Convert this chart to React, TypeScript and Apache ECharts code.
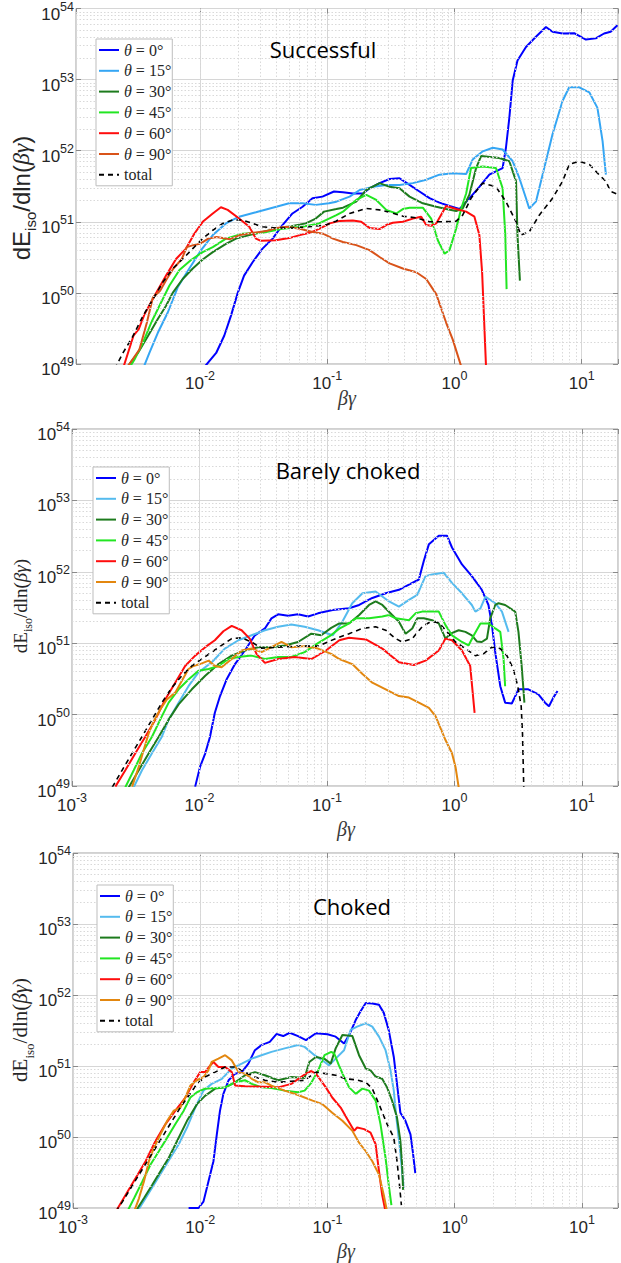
import React, { useEffect, useRef } from "react";
import * as echarts from "echarts";

type Pt = [number, number];

const seriesLabels = ["θ = 0°", "θ = 15°", "θ = 30°", "θ = 45°", "θ = 60°", "θ = 90°", "total"];
const panelTitles = ["Successful", "Barely choked", "Choked"];

// ---------- Successful ----------
const succ0: Pt[] = [[0.0105,8.5e48],[0.0134,1.43e49],[0.0155,2.5e49],[0.0175,4.75e49],[0.0198,1.0e50],[0.0222,1.75e50],[0.0259,2.7e50],[0.031,4.2e50],[0.0372,5.8e50],[0.0445,9.0e50],[0.0533,1.31e51],[0.064,1.63e51],[0.0766,2.14e51],[0.0917,2.26e51],[0.113,2.67e51],[0.133,2.6e51],[0.159,2.5e51],[0.191,2.5e51],[0.215,2.96e51],[0.258,3.5e51],[0.309,4.0e51],[0.37,4.1e51],[0.444,3.3e51],[0.531,2.67e51],[0.637,2.15e51],[0.762,1.86e51],[0.914,1.67e51],[1.094,1.51e51],[1.31,2.14e51],[1.57,3.1e51],[1.88,4.6e51],[2.39,5.7e51],[2.54,1.1e52],[2.7,2.9e52],[2.87,9.7e52],[3.13,1.86e53],[3.65,2.87e53],[4.37,4.0e53],[5.24,5.5e53],[5.9,4.7e53],[7.07,4.45e53],[8.73,4.5e53],[10.8,3.66e53],[12.9,3.8e53],[15.0,4.45e53],[16.9,4.7e53],[19.1,5.8e53]];
const succ15: Pt[] = [[0.00356,8.5e48],[0.004,1.43e49],[0.00466,2.75e49],[0.00558,5.3e49],[0.00668,1.2e50],[0.00824,2.2e50],[0.0102,4.0e50],[0.0126,6.5e50],[0.016,9.5e50],[0.0203,1.18e51],[0.0275,1.36e51],[0.0372,1.58e51],[0.0502,1.82e51],[0.064,1.82e51],[0.0813,1.73e51],[0.103,1.82e51],[0.118,1.92e51],[0.15,2.26e51],[0.18,2.8e51],[0.229,3.1e51],[0.291,3.3e51],[0.37,3.3e51],[0.471,3.5e51],[0.6,3.9e51],[0.762,4.6e51],[0.97,4.8e51],[1.236,4.7e51],[1.39,7.5e51],[1.67,9.8e51],[2.0,1.1e52],[2.39,1.04e52],[2.87,7.1e51],[3.24,4.1e51],[3.65,2.14e51],[3.87,1.54e51],[4.37,1.92e51],[4.93,4.6e51],[5.9,1.7e52],[7.07,5.0e52],[7.98,7.8e52],[9.56,7.8e52],[11.5,6.6e52],[13.3,4.0e52],[14.6,1.36e52],[15.5,4.6e51]];
const succ30: Pt[] = [[0.00271,9.3e48],[0.00325,1.43e49],[0.00389,2.46e49],[0.00466,4.3e49],[0.00541,6.6e49],[0.0061,1.0e50],[0.00731,1.57e50],[0.00877,2.2e50],[0.0105,2.95e50],[0.0126,3.75e50],[0.016,4.9e50],[0.0192,5.8e50],[0.0244,6.5e50],[0.031,7.2e50],[0.0394,8.0e50],[0.0533,8.7e50],[0.0678,9.5e50],[0.0813,1.11e51],[0.0944,1.39e51],[0.118,1.51e51],[0.133,1.58e51],[0.169,1.92e51],[0.203,2.8e51],[0.258,3.5e51],[0.309,3.1e51],[0.37,2.97e51],[0.444,2.26e51],[0.564,1.82e51],[0.719,1.63e51],[0.861,1.51e51],[1.031,1.42e51],[1.16,1.54e51],[1.31,2.4e51],[1.48,5.7e51],[1.62,8.4e51],[2.25,7.9e51],[2.7,7.1e51],[3.05,3.7e51],[3.13,6.5e50],[3.27,1.49e50]];
const succ45: Pt[] = [[0.0028,9.0e48],[0.00305,1.15e49],[0.00356,2.0e49],[0.00413,3.8e49],[0.0048,6.6e49],[0.00574,1.26e50],[0.00689,2.1e50],[0.0085,2.9e50],[0.0105,3.75e50],[0.0126,4.4e50],[0.016,5.8e50],[0.0216,6.8e50],[0.031,7.0e50],[0.0445,8.0e50],[0.064,8.5e50],[0.0862,9.5e50],[0.118,1.24e51],[0.133,1.39e51],[0.169,2.03e51],[0.203,2.4e51],[0.243,2.03e51],[0.291,1.47e51],[0.349,1.31e51],[0.393,1.51e51],[0.444,1.58e51],[0.564,1.58e51],[0.656,1.11e51],[0.74,5.5e50],[0.836,3.55e50],[0.914,4.0e50],[1.031,8.0e50],[1.13,1.54e51],[1.236,2.5e51],[1.35,5.7e51],[1.67,6.0e51],[2.12,5.7e51],[2.39,2.97e51],[2.51,6.5e50],[2.57,1.13e50]];
const succ60: Pt[] = [[0.0025,9.0e48],[0.003,2.5e49],[0.0033,3.1e49],[0.00366,5.0e49],[0.00452,1.0e50],[0.00541,1.75e50],[0.00648,3.0e50],[0.00776,4.2e50],[0.00902,6.8e50],[0.0105,1.0e51],[0.0126,1.31e51],[0.0146,1.6e51],[0.0165,1.47e51],[0.0203,1.11e51],[0.0244,8.5e50],[0.0275,5.8e50],[0.0301,5.4e50],[0.0394,5.5e50],[0.0502,5.9e50],[0.0608,6.5e50],[0.0729,7.0e50],[0.0873,8.0e50],[0.1046,9.5e50],[0.1253,1.03e51],[0.159,1.04e51],[0.185,1.0e51],[0.215,8.2e50],[0.258,7.9e50],[0.291,9.0e50],[0.328,9.7e50],[0.393,1.0e51],[0.471,1.11e51],[0.548,1.18e51],[0.6,9.0e50],[0.656,8.8e50],[0.719,9.5e50],[0.861,1.67e51],[1.031,1.51e51],[1.236,1.39e51],[1.435,1.18e51],[1.57,6.5e50],[1.65,1.95e50],[1.77,9.4e48]];
const succ90: Pt[] = [[0.00271,9.3e48],[0.00334,1.6e49],[0.00382,3.8e49],[0.00426,8.6e49],[0.00486,1.07e50],[0.00548,1.57e50],[0.00618,2.2e50],[0.00719,3.0e50],[0.00787,4.4e50],[0.00886,4.7e50],[0.01,4.9e50],[0.0116,5.8e50],[0.0135,6.1e50],[0.0172,5.7e50],[0.0206,6.5e50],[0.0262,7.0e50],[0.0333,7.4e50],[0.04,8.2e50],[0.0479,8.5e50],[0.0608,8.0e50],[0.0769,7.2e50],[0.0927,6.8e50],[0.111,5.8e50],[0.133,5.2e50],[0.169,4.7e50],[0.215,4.0e50],[0.258,3.2e50],[0.309,2.6e50],[0.393,2.2e50],[0.501,1.95e50],[0.6,1.57e50],[0.719,9.6e49],[0.861,3.8e49],[0.97,2.2e49],[1.129,9.3e48]];
const succTot: Pt[] = [[0.00213,8.5e48],[0.00248,1.43e49],[0.00297,2.46e49],[0.00356,4.75e49],[0.00426,8.1e49],[0.0051,1.41e50],[0.0061,2.2e50],[0.00731,3.0e50],[0.00877,4.2e50],[0.0105,5.8e50],[0.0126,7.6e50],[0.0151,9.5e50],[0.018,1.06e51],[0.0216,1.06e51],[0.0259,9.5e50],[0.031,8.5e50],[0.0394,8.2e50],[0.0533,8.2e50],[0.072,8.5e50],[0.0973,9.0e50],[0.117,1.02e51],[0.15,1.31e51],[0.203,1.54e51],[0.258,1.47e51],[0.309,1.36e51],[0.393,1.2e51],[0.501,1.14e51],[0.637,1.0e51],[0.81,1.0e51],[1.031,1.02e51],[1.16,1.24e51],[1.35,2.14e51],[1.57,3.1e51],[1.67,3.5e51],[2.12,3.1e51],[2.54,1.92e51],[3.05,1.0e51],[3.33,6.5e50],[3.87,7.2e50],[4.64,1.24e51],[5.9,2.14e51],[7.07,3.7e51],[7.98,6.4e51],[9.56,7.1e51],[11.5,6.4e51],[13.7,4.6e51],[15.5,3.7e51],[16.9,2.67e51],[19.7,2.4e51]];

// ---------- Barely choked ----------
const bare0: Pt[] = [[0.00925,9.8e48],[0.0101,1.85e49],[0.0111,2.87e49],[0.0121,4.9e49],[0.0132,1.06e50],[0.0145,1.82e50],[0.0163,3.1e50],[0.019,5.1e50],[0.0227,7.9e50],[0.0272,1.29e51],[0.0326,1.61e51],[0.0367,2.23e51],[0.0414,2.54e51],[0.0496,2.43e51],[0.0593,2.54e51],[0.0711,2.36e51],[0.0851,2.62e51],[0.102,2.82e51],[0.111,2.92e51],[0.149,3.08e51],[0.179,3.43e51],[0.227,4.3e51],[0.289,5.0e51],[0.367,5.6e51],[0.44,6.6e51],[0.526,7.8e51],[0.575,1.42e52],[0.631,2.44e52],[0.754,3.2e52],[0.875,3.2e52],[0.957,2.19e52],[1.146,1.27e52],[1.37,8.7e51],[1.64,5.6e51],[1.85,3.43e51],[1.97,1.79e51],[2.09,7.5e50],[2.29,2.5e50],[2.5,1.47e50],[2.82,1.43e50],[3.18,2.26e50],[3.8,2.26e50],[4.56,1.92e50],[5.14,1.47e50],[5.52,1.31e50],[5.97,1.73e50],[6.44,2.14e50]];
const bare15: Pt[] = [[0.00305,9.6e48],[0.00354,1.66e49],[0.00424,2.87e49],[0.00507,4.9e49],[0.00573,8.5e49],[0.00686,1.47e50],[0.0082,2.5e50],[0.00982,3.9e50],[0.0125,5.4e50],[0.0158,8.4e50],[0.0202,1.1e51],[0.0256,1.29e51],[0.0326,1.52e51],[0.0414,1.7e51],[0.0526,1.83e51],[0.0668,1.7e51],[0.0851,1.52e51],[0.111,1.29e51],[0.132,2.0e51],[0.158,3.63e51],[0.19,5.0e51],[0.241,5.3e51],[0.307,3.84e51],[0.367,3.26e51],[0.44,4.05e51],[0.511,4.76e51],[0.593,8.7e51],[0.668,9.2e51],[0.824,9.7e51],[0.957,7.0e51],[1.146,5.0e51],[1.37,3.43e51],[1.46,2.77e51],[1.6,3.08e51],[1.75,4.5e51],[2.09,3.63e51],[2.36,2.77e51],[2.66,1.44e51]];
const bare30: Pt[] = [[0.00279,9.6e48],[0.00334,1.66e49],[0.004,2.87e49],[0.00479,4.9e49],[0.00573,8.5e49],[0.00686,1.39e50],[0.00871,2.26e50],[0.0111,3.5e50],[0.0141,5.1e50],[0.0179,6.7e50],[0.0227,7.9e50],[0.0289,8.8e50],[0.0367,8.8e50],[0.0467,9.3e50],[0.0593,1.04e51],[0.0754,1.36e51],[0.0902,1.29e51],[0.108,1.64e51],[0.125,1.89e51],[0.149,1.89e51],[0.179,2.48e51],[0.214,3.43e51],[0.241,3.84e51],[0.272,3.43e51],[0.325,2.48e51],[0.367,2.0e51],[0.414,1.36e51],[0.467,1.61e51],[0.511,2.23e51],[0.575,2.23e51],[0.668,2.1e51],[0.754,1.89e51],[0.851,1.16e51],[0.931,1.36e51],[1.08,1.52e51],[1.22,1.44e51],[1.37,1.29e51],[1.5,1.06e51],[1.64,1.04e51],[1.8,1.16e51],[1.91,2.23e51],[2.09,3.43e51],[2.22,3.63e51],[2.5,3.43e51],[3.0,2.77e51],[3.18,1.44e51],[3.37,4.8e50],[3.54,1.47e50]];
const bare45: Pt[] = [[0.00262,9.6e48],[0.00305,1.66e49],[0.00354,2.87e49],[0.00424,4.9e49],[0.00492,8.5e49],[0.00573,1.47e50],[0.00686,2.26e50],[0.0082,3.1e50],[0.00982,4.1e50],[0.0118,4.35e50],[0.0141,4.8e50],[0.0169,6.0e50],[0.0202,6.4e50],[0.0256,6.7e50],[0.0326,6.0e50],[0.0414,6.4e50],[0.0526,6.4e50],[0.0668,7.5e50],[0.0851,1.0e51],[0.108,1.3e51],[0.125,1.6e51],[0.141,1.79e51],[0.169,2.23e51],[0.214,2.23e51],[0.272,2.36e51],[0.307,2.48e51],[0.346,2.23e51],[0.44,2.1e51],[0.495,2.62e51],[0.558,2.77e51],[0.754,2.77e51],[0.851,1.79e51],[0.957,1.29e51],[1.146,1.04e51],[1.29,9.3e50],[1.42,1.29e51],[1.6,1.89e51],[1.85,1.89e51],[2.09,1.61e51],[2.29,1.44e51],[2.43,6.0e50],[2.5,2.5e50]];
const bare60: Pt[] = [[0.00219,9.8e48],[0.00262,1.66e49],[0.00314,2.87e49],[0.00376,4.9e49],[0.0045,8.5e49],[0.00539,1.63e50],[0.00645,2.8e50],[0.00772,4.8e50],[0.00925,6.7e50],[0.0111,8.8e50],[0.0132,1.1e51],[0.0154,1.47e51],[0.0179,1.75e51],[0.0214,1.52e51],[0.0248,1.16e51],[0.028,7.1e50],[0.0326,5.3e50],[0.0414,6.0e50],[0.0558,6.4e50],[0.0754,6.0e50],[0.0983,7.9e50],[0.125,1.1e51],[0.149,1.19e51],[0.202,1.13e51],[0.272,8.4e50],[0.367,5.4e50],[0.481,4.95e50],[0.593,5.7e50],[0.754,7.9e50],[0.851,1.16e51],[0.957,1.1e51],[1.146,7.9e50],[1.33,4.8e50],[1.44,1.06e50]];
const bare90: Pt[] = [[0.00296,9.8e48],[0.00334,1.85e49],[0.00365,3.2e49],[0.004,5.5e49],[0.00437,8.0e49],[0.00492,1.18e50],[0.00555,1.63e50],[0.00645,2.03e50],[0.00728,2.97e50],[0.0082,4.35e50],[0.00898,4.8e50],[0.0101,5.1e50],[0.0118,5.7e50],[0.0132,4.8e50],[0.0149,4.6e50],[0.0179,6.0e50],[0.0214,7.9e50],[0.0256,8.4e50],[0.0307,7.5e50],[0.0367,8.8e50],[0.044,1.04e51],[0.0526,8.8e50],[0.0668,9.1e50],[0.0851,8.4e50],[0.108,7.1e50],[0.125,6.0e50],[0.158,5.1e50],[0.19,3.7e50],[0.227,2.8e50],[0.289,2.26e50],[0.367,1.82e50],[0.44,1.73e50],[0.526,1.47e50],[0.631,1.24e50],[0.711,9.5e49],[0.851,4.4e49],[0.957,2.87e49],[1.02,1.85e49],[1.08,9.6e48]];
const bareTot: Pt[] = [[0.00207,9.6e48],[0.00247,1.66e49],[0.00296,2.87e49],[0.00354,4.9e49],[0.00424,8.5e49],[0.00507,1.47e50],[0.00608,2.4e50],[0.00728,3.5e50],[0.00871,4.8e50],[0.0104,6.0e50],[0.0125,7.5e50],[0.0149,9.3e50],[0.0179,1.16e51],[0.0214,1.19e51],[0.0256,1.04e51],[0.0307,8.5e50],[0.0414,8.8e50],[0.0593,9.1e50],[0.0851,9.1e50],[0.117,1.16e51],[0.149,1.36e51],[0.19,1.61e51],[0.241,1.7e51],[0.289,1.52e51],[0.346,1.16e51],[0.39,1.04e51],[0.467,1.16e51],[0.558,1.7e51],[0.65,2.0e51],[0.754,1.95e51],[0.875,1.44e51],[1.02,1.04e51],[1.22,8.4e50],[1.46,6.7e50],[1.69,7.1e50],[1.97,8.8e50],[2.29,8.4e50],[2.58,6.7e50],[2.9,4.35e50],[3.14,2.5e50],[3.34,1.31e50],[3.42,5.5e49],[3.5,9.6e48]];

// ---------- Choked ----------
const chok0: Pt[] = [[0.0081,1.0e49],[0.0097,1.0e49],[0.0106,1.23e49],[0.0116,2.37e49],[0.0127,4.56e49],[0.0135,1.09e50],[0.0143,2.35e50],[0.0152,4.05e50],[0.0167,6.3e50],[0.0188,7.8e50],[0.0212,8.2e50],[0.0239,1.08e51],[0.0269,1.67e51],[0.0303,1.97e51],[0.0352,2.19e51],[0.0397,2.82e51],[0.0449,2.64e51],[0.0505,2.94e51],[0.0587,2.64e51],[0.0678,2.32e51],[0.0811,2.89e51],[0.1,2.8e51],[0.116,2.59e51],[0.135,2.08e51],[0.148,2.73e51],[0.167,4.47e51],[0.182,5.9e51],[0.2,7.7e51],[0.225,7.6e51],[0.254,7.3e51],[0.277,5.6e51],[0.303,3.2e51],[0.332,1.34e51],[0.352,5.6e50],[0.374,2.2e50],[0.41,1.69e50],[0.449,1.09e50],[0.468,6.3e49],[0.49,3.1e49]];
const chok15: Pt[] = [[0.0032,8.9e48],[0.00372,1.37e49],[0.00432,2.12e49],[0.00502,3.3e49],[0.00583,5.1e49],[0.00678,7.9e49],[0.00787,1.36e50],[0.00914,2.6e50],[0.0106,4.5e50],[0.0123,5.6e50],[0.0148,6.6e50],[0.0177,9.2e50],[0.0212,1.08e51],[0.0254,1.27e51],[0.0303,1.42e51],[0.0363,1.58e51],[0.0461,1.77e51],[0.0587,1.97e51],[0.0661,1.86e51],[0.0791,1.42e51],[0.0948,1.14e51],[0.103,1.02e51],[0.116,1.27e51],[0.135,1.67e51],[0.152,3.22e51],[0.171,3.59e51],[0.2,4.0e51],[0.225,3.59e51],[0.254,2.59e51],[0.286,1.67e51],[0.313,8.7e50],[0.332,4.5e50],[0.348,1.88e50],[0.368,7.9e49],[0.386,3.3e49],[0.397,1.9e49]];
const chok30: Pt[] = [[0.0031,8.9e48],[0.00361,1.37e49],[0.0042,2.12e49],[0.00487,3.3e49],[0.00566,5.1e49],[0.00658,8.8e49],[0.00787,1.69e50],[0.00942,2.9e50],[0.0109,3.8e50],[0.0131,4.8e50],[0.0157,5.0e50],[0.0188,5.9e50],[0.0225,7.4e50],[0.0269,8.2e50],[0.0322,7.4e50],[0.041,6.3e50],[0.052,7.0e50],[0.0661,6.8e50],[0.072,1.14e51],[0.0811,1.34e51],[0.0942,1.27e51],[0.106,1.08e51],[0.116,1.77e51],[0.131,2.73e51],[0.157,2.64e51],[0.177,1.42e51],[0.2,9.2e50],[0.218,8.7e50],[0.239,7.1e50],[0.269,6.6e50],[0.294,5.0e50],[0.322,3.25e50],[0.352,1.88e50],[0.374,8.8e49],[0.386,4.1e49],[0.393,1.8e49]];
const chok45: Pt[] = [[0.00267,8.9e48],[0.00302,1.37e49],[0.00351,2.37e49],[0.00407,4.1e49],[0.00473,6.3e49],[0.0055,9.8e49],[0.00638,1.52e50],[0.00742,2.35e50],[0.00836,3.6e50],[0.00942,4.27e50],[0.0109,4.8e50],[0.0131,4.9e50],[0.0157,5.0e50],[0.0188,5.9e50],[0.0225,6.3e50],[0.0254,5.6e50],[0.0303,5.0e50],[0.0363,4.9e50],[0.0461,4.5e50],[0.0587,4.27e50],[0.0661,4.5e50],[0.0746,5.8e50],[0.0841,8.5e50],[0.0948,1.42e51],[0.107,1.58e51],[0.113,1.5e51],[0.123,1.02e51],[0.135,7.0e50],[0.148,5.0e50],[0.167,4.05e50],[0.188,4.8e50],[0.212,4.5e50],[0.239,3.25e50],[0.261,1.52e50],[0.286,5.1e49],[0.303,2.12e49],[0.318,1.1e49]];
const chok60: Pt[] = [[0.00217,8.9e48],[0.00259,1.53e49],[0.0031,2.63e49],[0.00372,4.56e49],[0.00445,8.8e49],[0.00533,1.52e50],[0.00638,2.35e50],[0.00764,3.6e50],[0.00888,5.9e50],[0.01,8.2e50],[0.0109,8.2e50],[0.012,1.02e51],[0.0127,1.14e51],[0.0139,9.7e50],[0.0157,9.7e50],[0.0177,8.2e50],[0.0188,5.3e50],[0.0225,5.2e50],[0.0322,5.1e50],[0.041,5.0e50],[0.052,5.6e50],[0.0661,7.6e50],[0.0746,8.5e50],[0.0811,7.8e50],[0.0971,5.0e50],[0.109,3.6e50],[0.127,2.6e50],[0.143,1.79e50],[0.162,1.22e50],[0.171,1.36e50],[0.194,1.29e50],[0.218,1.15e50],[0.239,7.9e49],[0.254,3.3e49],[0.269,1.53e49],[0.286,8.9e48]];
const chok90: Pt[] = [[0.00302,8.9e48],[0.0033,1.37e49],[0.00361,2.37e49],[0.00395,4.56e49],[0.00432,7.0e49],[0.00487,1.09e50],[0.0055,1.69e50],[0.0062,2.35e50],[0.00698,2.6e50],[0.00764,3.6e50],[0.00836,5.3e50],[0.00942,6.3e50],[0.0106,7.0e50],[0.0116,8.7e50],[0.0123,1.14e51],[0.0139,1.27e51],[0.0157,1.42e51],[0.0177,1.2e51],[0.02,8.2e50],[0.0225,7.8e50],[0.0254,6.6e50],[0.0286,5.9e50],[0.0322,5.9e50],[0.0363,5.3e50],[0.0461,4.5e50],[0.0587,3.9e50],[0.0764,3.25e50],[0.0914,2.9e50],[0.109,2.2e50],[0.131,1.69e50],[0.157,1.22e50],[0.177,8.3e49],[0.2,6.3e49],[0.225,4.56e49],[0.254,2.95e49],[0.277,1.53e49],[0.294,8.9e48]];
const chokTot: Pt[] = [[0.00217,8.9e48],[0.00245,1.23e49],[0.00284,1.9e49],[0.0033,2.94e49],[0.00384,4.56e49],[0.00445,7.0e49],[0.00518,1.09e50],[0.00601,1.69e50],[0.00698,2.6e50],[0.00811,3.8e50],[0.00942,5.6e50],[0.0109,7.0e50],[0.0131,8.2e50],[0.0157,9.7e50],[0.0188,9.7e50],[0.0225,8.2e50],[0.0269,7.0e50],[0.0322,6.3e50],[0.041,5.9e50],[0.052,6.1e50],[0.0661,6.3e50],[0.0811,8.2e50],[0.0971,7.8e50],[0.116,7.4e50],[0.139,6.6e50],[0.167,6.4e50],[0.2,5.9e50],[0.225,4.8e50],[0.254,2.9e50],[0.294,1.52e50],[0.332,9.8e49],[0.352,4.56e49],[0.368,2.12e49],[0.381,1.1e49]];

const colorsP1 = ["#0000ff", "#35a6f4", "#1d7b1d", "#22e622", "#ff0d0d", "#d95319", "#000000"];
const colorsP23 = ["#0000ff", "#55bbee", "#1d7b1d", "#22e622", "#ff0d0d", "#e3870f", "#000000"];

const Y_MIN = 1e49;
const Y_MAX = 1e54;

const panels = [
  {
    data: [succ0, succ15, succ30, succ45, succ60, succ90, succTot],
    colors: colorsP1,
    grid: { left: 76, top: 8, width: 543, height: 356 },
    xMin: 1.06e-3, xMax: 19.3,
    legend: { left: 96, top: 39 },
    title: { x: 323, y: 49 },
    xName: { x: 347, y: 398 },
    yName: { x: 22, y: 198, serif: false, size: 24 },
  },
  {
    data: [bare0, bare15, bare30, bare45, bare60, bare90, bareTot],
    colors: colorsP23,
    grid: { left: 72, top: 429, width: 548, height: 357 },
    xMin: 1e-3, xMax: 19.2,
    legend: { left: 93, top: 467 },
    title: { x: 348, y: 470 },
    xName: { x: 346, y: 829 },
    yName: { x: 21, y: 606, serif: true, size: 19 },
  },
  {
    data: [chok0, chok15, chok30, chok45, chok60, chok90, chokTot],
    colors: colorsP23,
    grid: { left: 73, top: 853, width: 547, height: 355 },
    xMin: 1e-3, xMax: 19.2,
    legend: { left: 97, top: 885 },
    title: { x: 352, y: 906 },
    xName: { x: 346, y: 1251 },
    yName: { x: 21, y: 1030, serif: true, size: 21 },
  },
];

const powLabel = (v: number) => {
  const l = Math.log10(v);
  const e = Math.round(l);
  if (Math.abs(l - e) > 1e-6) return "";
  return `{b|10}{s|${e}}`;
};

const labelColor = "#262626";
const tickColor = "#8a8a8a";

function buildOption() {
  const grid: any[] = [];
  const xAxis: any[] = [];
  const yAxis: any[] = [];
  const series: any[] = [];
  const legend: any[] = [];
  const graphic: any[] = [];
  const xTop: any[] = [];
  const yRight: any[] = [];

  panels.forEach((p, i) => {
    grid.push({ ...p.grid, show: true, borderColor: "#a3a3a3", borderWidth: 1, backgroundColor: "#ffffff" });
    xAxis.push({
      type: "log", logBase: 10, gridIndex: i, min: p.xMin, max: p.xMax, position: "bottom",
      axisLine: { show: false },
      axisTick: { show: true, inside: true, length: 5, lineStyle: { color: tickColor } },
      splitLine: { show: true, lineStyle: { color: "#d6d6d6", width: 1 } },
      axisLabel: {
        formatter: powLabel, margin: 3, color: labelColor,
        rich: {
          b: { fontFamily: "Liberation Sans", fontSize: 17, lineHeight: 17, color: labelColor, padding: [7.5, 0, 0, 0], verticalAlign: "top" },
          s: { fontFamily: "Liberation Sans", fontSize: 12.5, lineHeight: 12.5, color: labelColor, padding: [2, 0, 0, 0], verticalAlign: "top" },
        },
      },
    });
    xTop.push({
      type: "log", logBase: 10, gridIndex: i, min: p.xMin, max: p.xMax, position: "top",
      axisLine: { show: false }, splitLine: { show: false }, axisLabel: { show: false },
      axisTick: { show: true, inside: true, length: 5, lineStyle: { color: tickColor } },
    });
    yAxis.push({
      type: "log", logBase: 10, gridIndex: i, min: Y_MIN, max: Y_MAX, position: "left",
      axisLine: { show: false },
      axisTick: { show: true, inside: true, length: 5, lineStyle: { color: tickColor } },
      splitLine: { show: true, lineStyle: { color: "#d6d6d6", width: 1 } },
      axisLabel: {
        formatter: powLabel, margin: 2, color: labelColor,
        rich: {
          b: { fontFamily: "Liberation Sans", fontSize: 17, lineHeight: 17, color: labelColor, padding: [5.5, 0, 0, 0], verticalAlign: "top" },
          s: { fontFamily: "Liberation Sans", fontSize: 12.5, lineHeight: 12.5, color: labelColor, padding: [0, 0, 12.5, 0], verticalAlign: "top" },
        },
      },
    });
    yRight.push({
      type: "log", logBase: 10, gridIndex: i, min: Y_MIN, max: Y_MAX, position: "right",
      axisLine: { show: false }, splitLine: { show: false }, axisLabel: { show: false },
      axisTick: { show: true, inside: true, length: 5, lineStyle: { color: tickColor } },
    });

    const names: string[] = [];
    p.data.forEach((d, k) => {
      const name = `${i}|${seriesLabels[k]}`;
      names.push(name);
      const isTotal = k === 6;
      series.push({
        name, type: "line", xAxisIndex: i, yAxisIndex: i, data: d,
        symbol: "none", showSymbol: false, clip: true, silent: true, z: 2,
        lineStyle: { color: p.colors[k], width: isTotal ? 1.6 : 2, type: isTotal ? [5, 4] : "solid" },
        itemStyle: { color: p.colors[k] },
      });
    });

    // minor grid lines (dotted) at 2..9 x 10^n
    const minor: any[] = [];
    for (let e = -3; e <= 1; e++) {
      for (let m = 2; m <= 9; m++) {
        const v = m * Math.pow(10, e);
        if (v > p.xMin && v < p.xMax) minor.push({ xAxis: v });
      }
    }
    for (let e = 49; e <= 53; e++) {
      for (let m = 2; m <= 9; m++) minor.push({ yAxis: m * Math.pow(10, e) });
    }
    series.push({
      type: "line", xAxisIndex: i, yAxisIndex: i, data: [], z: 1, silent: true,
      markLine: {
        silent: true, symbol: ["none", "none"], label: { show: false },
        lineStyle: { color: "#d9d9d9", type: [1.5, 2], width: 1 },
        emphasis: { disabled: true },
        data: minor,
      },
    });

    legend.push({
      orient: "vertical", left: p.legend.left, top: p.legend.top, z: 20,
      padding: [3, 1, 3, 2], itemGap: 4.8, itemWidth: 20, itemHeight: 14,
      backgroundColor: "#ffffff", borderColor: "#bdbdbd", borderWidth: 1,
      selectedMode: false, data: names,
      itemStyle: { opacity: 0 },
      formatter: (name: string) => {
        const lab = name.split("|")[1];
        if (lab.startsWith("θ")) return `{i|θ}{n|${lab.slice(1)}}`;
        return `{n|${lab}}`;
      },
      textStyle: {
        color: labelColor, fontFamily: "Liberation Serif", fontSize: 16,
        rich: {
          i: { fontFamily: "Liberation Serif", fontStyle: "italic", fontSize: 16, color: labelColor },
          n: { fontFamily: "Liberation Serif", fontSize: 16, color: labelColor },
        },
      },
    });

    graphic.push({
      type: "text", x: p.title.x, y: p.title.y, silent: true, z: 50,
      style: { text: panelTitles[i], fontFamily: "Open Sans", fontSize: 22, fill: "#000000", align: "center", verticalAlign: "middle" },
    });
    graphic.push({
      type: "text", x: p.xName.x, y: p.xName.y, silent: true,
      style: { text: "βγ", fontFamily: "Liberation Serif", fontStyle: "italic", fontSize: 20, fill: "#3a3a3a", align: "center", verticalAlign: "middle" },
    });
    const fam = p.yName.serif ? "Liberation Serif" : "Liberation Sans";
    const fs = p.yName.size;
    graphic.push({
      type: "text", x: p.yName.x, y: p.yName.y, rotation: Math.PI / 2, silent: true,
      style: {
        text: "{m|dE}{sub|iso}{m|/dln(}{g|βγ}{m|)}",
        align: "center", verticalAlign: "middle", fill: labelColor,
        rich: {
          m: { fontFamily: fam, fontSize: fs, lineHeight: fs + 2, fill: labelColor, verticalAlign: "top" },
          sub: { fontFamily: fam, fontSize: Math.round(fs * 0.62), lineHeight: Math.round(fs * 0.62), padding: [Math.round(fs * 0.6), 0, 0, 0], fill: labelColor, verticalAlign: "top" },
          g: { fontFamily: "Liberation Serif", fontStyle: "italic", fontSize: fs, lineHeight: fs + 2, fill: labelColor, verticalAlign: "top" },
        },
      },
    });
  });

  return {
    animation: false, backgroundColor: "#ffffff", grid,
    xAxis: [...xAxis, ...xTop], yAxis: [...yAxis, ...yRight],
    series, legend, graphic,
  };
}

export default function App() {
  const ref = useRef<HTMLDivElement>(null);
  useEffect(() => {
    document.body.style.margin = "0";
    if (!ref.current) return;
    const chart = echarts.init(ref.current, undefined, { renderer: "svg" });
    chart.setOption(buildOption() as any);
    return () => chart.dispose();
  }, []);
  return <div ref={ref} style={{ width: 621, height: 1263 }} />;
}
